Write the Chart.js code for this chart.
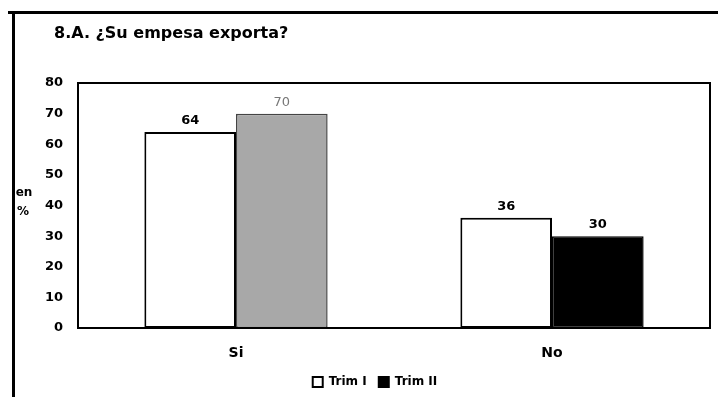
<!DOCTYPE html>
<html><head><meta charset="utf-8">
<script src="https://cdn.jsdelivr.net/npm/chart.js@4/dist/chart.umd.min.js"></script>
<style>html,body{margin:0;padding:0;background:#fff}#wrap{width:718px;height:397px;position:relative}</style>
</head><body><div id="wrap"><canvas id="c" width="718" height="397"></canvas></div>
<script>
const categories = ['Si', 'No'];
const trimI = [64, 36];
const trimII = [70, 30];
const seriesNames = ['Trim I', 'Trim II'];
const yTicks = [0, 10, 20, 30, 40, 50, 60, 70, 80];
const chartTitle = '8.A. ¿Su empesa exporta?';
const yAxisTitle = ['en', '%'];

const FONT = "'DejaVu Sans', 'Liberation Sans', Arial, sans-serif";

const decor = {
  id: 'decor',
  afterDraw(chart) {
    const ctx = chart.ctx;
    const a = chart.chartArea;
    ctx.save();
    // outer frame (top and left)
    ctx.strokeStyle = '#000';
    ctx.lineWidth = 3;
    ctx.beginPath();
    ctx.moveTo(8, 12.5); ctx.lineTo(718, 12.5);
    ctx.moveTo(13.5, 11); ctx.lineTo(13.5, 397);
    ctx.stroke();
    // plot area box
    ctx.lineWidth = 2;
    ctx.strokeRect(a.left, a.top, a.right - a.left, a.bottom - a.top);
    // chart title
    ctx.fillStyle = '#000';
    ctx.font = 'bold 16px ' + FONT;
    ctx.textAlign = 'left';
    ctx.textBaseline = 'middle';
    ctx.fillText(chartTitle, a.left - 24, a.top - 49);
    // y axis title
    ctx.font = 'bold 12px ' + FONT;
    ctx.textAlign = 'center';
    const mid = (a.top + a.bottom) / 2;
    ctx.fillText(yAxisTitle[0], a.left - 54, mid - 13);
    ctx.fillText(yAxisTitle[1], a.left - 55, mid + 6);
    // data labels
    ctx.textBaseline = 'bottom';
    const labelColors = [['#000', '#000'], ['#777', '#000']];
    const labelWeights = [['bold', 'bold'], ['normal', 'bold']];
    chart.data.datasets.forEach((ds, di) => {
      const meta = chart.getDatasetMeta(di);
      meta.data.forEach((el, i) => {
        ctx.fillStyle = labelColors[di][i];
        ctx.font = labelWeights[di][i] + ' 13px ' + FONT;
        ctx.fillText(String(ds.data[i]), el.x, el.y - 5);
      });
    });
    ctx.restore();
  }
};

new Chart(document.getElementById('c'), {
  type: 'bar',
  data: {
    labels: categories,
    datasets: [
      {
        label: seriesNames[0],
        data: trimI,
        backgroundColor: '#ffffff',
        borderColor: '#000000',
        borderWidth: 2,
        borderSkipped: false,
        categoryPercentage: 0.58,
        barPercentage: 1.0
      },
      {
        label: seriesNames[1],
        data: trimII,
        backgroundColor: ['#a8a8a8', '#000000'],
        borderColor: ['#444444', '#000000'],
        borderWidth: 1.5,
        borderSkipped: false,
        categoryPercentage: 0.58,
        barPercentage: 1.0
      }
    ]
  },
  options: {
    responsive: false,
    animation: false,
    devicePixelRatio: 1,
    layout: { padding: { top: 83, left: 40, right: 8, bottom: -1 } },
    scales: {
      x: {
        afterFit(scale) { scale.height = 36; },
        grid: { display: false, drawTicks: false },
        border: { display: false },
        ticks: { color: '#000', font: { family: FONT, size: 14, weight: 'bold' }, padding: 17 }
      },
      y: {
        min: 0, max: 80,
        afterBuildTicks(scale) { scale.ticks = yTicks.map(v => ({ value: v })); },
        afterFit(scale) { scale.width = 38; },
        grid: { display: false, drawTicks: false },
        border: { display: false },
        ticks: { color: '#000', font: { family: FONT, size: 13, weight: 'bold' }, padding: 15 }
      }
    },
    plugins: {
      title: { display: false },
      legend: {
        position: 'bottom',
        labels: {
          color: '#000',
          font: { family: FONT, size: 12, weight: 'bold' },
          boxWidth: 10,
          boxHeight: 10,
          padding: 12,
          generateLabels(chart) {
            return chart.data.datasets.map((ds, i) => ({
              text: ds.label,
              fillStyle: i === 0 ? '#ffffff' : '#000000',
              strokeStyle: '#000000',
              lineWidth: 2,
              datasetIndex: i,
              hidden: false,
              fontColor: '#000'
            }));
          }
        }
      },
      tooltip: { enabled: false }
    }
  },
  plugins: [decor]
});
</script>
</body></html>
